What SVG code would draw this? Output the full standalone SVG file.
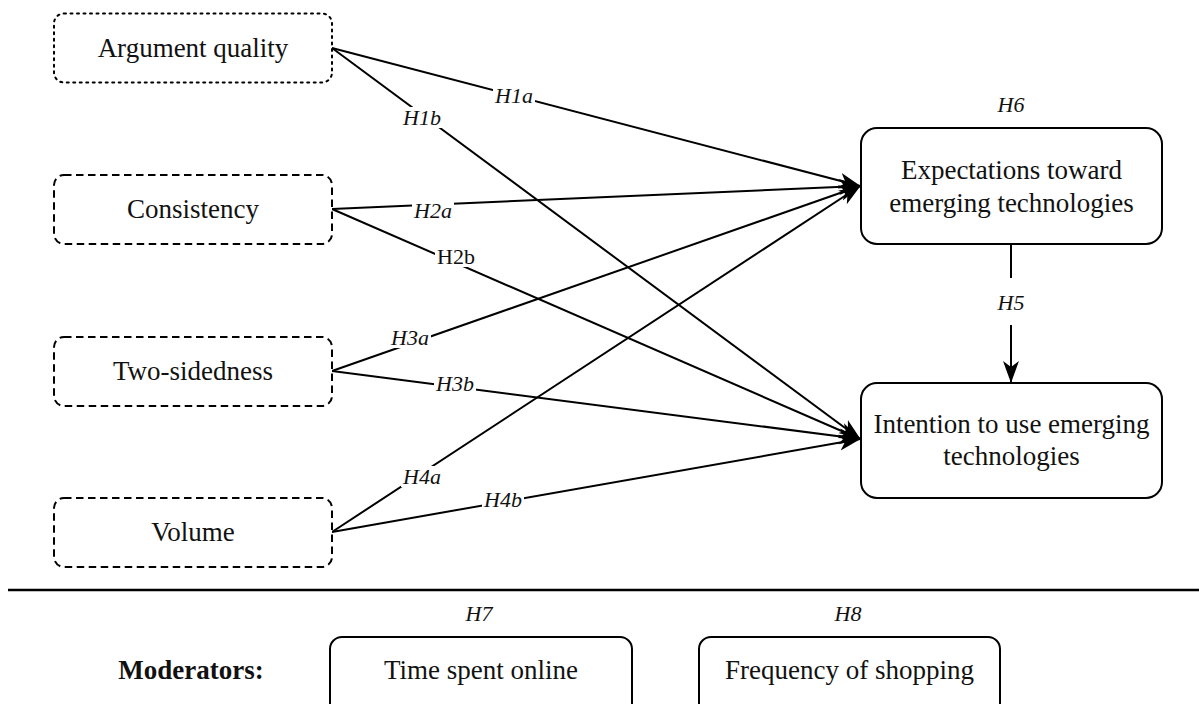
<svg xmlns="http://www.w3.org/2000/svg" width="1199" height="704" viewBox="0 0 1199 704">
<style>
  .node { fill: #fff; stroke: #000; stroke-width: 2; }
  .dot { stroke-dasharray: 2 4.5; stroke-linecap: round; }
  .dash { stroke-dasharray: 7.5 4.5; }
  .t { font-family: "Liberation Serif", "Times New Roman", serif; font-size: 27px; fill: #111; text-anchor: middle; }
  .b { font-weight: bold; }
  .lab { font-family: "Liberation Serif", "Times New Roman", serif; font-size: 22px; font-style: italic; fill: #111; text-anchor: middle; }
  .up { font-style: normal; }
  .conn line { stroke: #000; stroke-width: 2; fill: none; }
  .bg { fill: #fff; }
</style>
<defs>
  <marker id="arr" markerUnits="userSpaceOnUse" viewBox="0 0 22 18" refX="21" refY="9" markerWidth="22" markerHeight="18" orient="auto">
    <path d="M0,1 L22,9 L0,17 L6,9 Z" fill="#000"/>
  </marker>
</defs>
<rect width="1199" height="704" fill="#fff"/>

<g id="connectors" class="conn">
  <line x1="332" y1="48" x2="860" y2="186" marker-end="url(#arr)"/>
  <line x1="332" y1="48" x2="860" y2="439" marker-end="url(#arr)"/>
  <line x1="332" y1="209" x2="860" y2="186" marker-end="url(#arr)"/>
  <line x1="332" y1="209" x2="860" y2="439" marker-end="url(#arr)"/>
  <line x1="332" y1="371" x2="860" y2="186" marker-end="url(#arr)"/>
  <line x1="332" y1="371" x2="860" y2="439" marker-end="url(#arr)"/>
  <line x1="332" y1="532" x2="860" y2="186" marker-end="url(#arr)"/>
  <line x1="332" y1="532" x2="860" y2="439" marker-end="url(#arr)"/>
  <line x1="1011" y1="244" x2="1011" y2="382" marker-end="url(#arr)"/>
  <line x1="8" y1="590" x2="1199" y2="590" style="stroke-width:2.5"/>
</g>

<g id="labels">
  <rect class="bg" x="493" y="85" width="42" height="21"/>
  <text class="lab" x="514" y="103">H1a</text>
  <rect class="bg" x="401" y="107" width="42" height="21"/>
  <text class="lab" x="422" y="125">H1b</text>
  <rect class="bg" x="412" y="200" width="42" height="21"/>
  <text class="lab" x="433" y="218">H2a</text>
  <rect class="bg" x="435" y="246" width="42" height="21"/>
  <text class="lab up" x="456" y="264">H2b</text>
  <rect class="bg" x="389" y="327" width="42" height="21"/>
  <text class="lab" x="410" y="345">H3a</text>
  <rect class="bg" x="434" y="373" width="42" height="21"/>
  <text class="lab" x="455" y="391">H3b</text>
  <rect class="bg" x="401" y="466" width="42" height="21"/>
  <text class="lab" x="422" y="484">H4a</text>
  <rect class="bg" x="482" y="489" width="42" height="21"/>
  <text class="lab" x="503" y="507">H4b</text>
  <rect class="bg" x="990" y="278" width="42" height="47"/>
  <text class="lab" x="1011" y="310">H5</text>
  <text class="lab" x="1011" y="112">H6</text>
  <text class="lab" x="479" y="621">H7</text>
  <text class="lab" x="848" y="621">H8</text>
</g>

<g id="n-argument">
  <rect class="node dot" x="54" y="13.5" width="278" height="69" rx="10"/>
  <text class="t" x="193" y="57">Argument quality</text>
</g>
<g id="n-consistency">
  <rect class="node dash" x="54" y="175" width="278" height="69" rx="10"/>
  <text class="t" x="193" y="218">Consistency</text>
</g>
<g id="n-twosided">
  <rect class="node dash" x="54" y="337" width="278" height="69" rx="10"/>
  <text class="t" x="193" y="380">Two-sidedness</text>
</g>
<g id="n-volume">
  <rect class="node dash" x="54" y="498" width="278" height="69" rx="10"/>
  <text class="t" x="193" y="541">Volume</text>
</g>
<g id="n-expectations">
  <rect class="node" x="861" y="128" width="301" height="116" rx="16"/>
  <text class="t" x="1011.5" y="179">Expectations toward</text>
  <text class="t" x="1011.5" y="212">emerging technologies</text>
</g>
<g id="n-intention">
  <rect class="node" x="861" y="383" width="301" height="115" rx="16"/>
  <text class="t" x="1011.5" y="433">Intention to use emerging</text>
  <text class="t" x="1011.5" y="465">technologies</text>
</g>
<g id="n-moderators">
  <text class="t b" x="191" y="679">Moderators:</text>
</g>
<g id="n-time">
  <rect class="node" x="330" y="637" width="302" height="85" rx="12"/>
  <text class="t" x="481" y="679">Time spent online</text>
</g>
<g id="n-frequency">
  <rect class="node" x="699" y="637" width="301" height="85" rx="12"/>
  <text class="t" x="849.5" y="679">Frequency of shopping</text>
</g>
</svg>
